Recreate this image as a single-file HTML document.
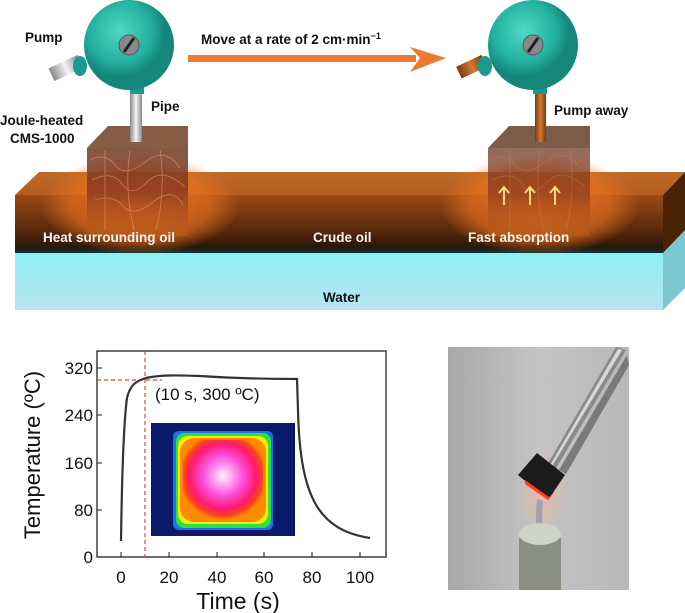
<!DOCTYPE html>
<html><head><meta charset="utf-8"><style>
html,body{margin:0;padding:0;background:#fff;width:685px;height:613px;overflow:hidden}
svg{display:block;font-family:"Liberation Sans",Arial,sans-serif}
</style></head><body>
<svg width="685" height="613" viewBox="0 0 685 613" xmlns="http://www.w3.org/2000/svg">
<defs>
<linearGradient id="oilF" x1="0" y1="0" x2="0" y2="1">
<stop offset="0" stop-color="#9a4a14"/><stop offset="0.6" stop-color="#5a2a0c"/><stop offset="0.9" stop-color="#2c1606"/><stop offset="1" stop-color="#0e3a3a"/></linearGradient>
<linearGradient id="oilT" x1="0" y1="0" x2="0" y2="1"><stop offset="0" stop-color="#c06a28"/><stop offset="1" stop-color="#b35c1e"/></linearGradient>
<linearGradient id="wat" x1="0" y1="0" x2="0" y2="1"><stop offset="0" stop-color="#8ef0f6"/><stop offset="1" stop-color="#b8e4f0"/></linearGradient>
<radialGradient id="glow"><stop offset="0" stop-color="#ff7a1a" stop-opacity="0.85"/><stop offset="0.7" stop-color="#f07420" stop-opacity="0.6"/><stop offset="1" stop-color="#f07420" stop-opacity="0"/></radialGradient>
<radialGradient id="pump" cx="0.4" cy="0.35"><stop offset="0" stop-color="#4fd8c4"/><stop offset="0.7" stop-color="#22b0a0"/><stop offset="1" stop-color="#14867a"/></radialGradient>
<linearGradient id="cube" x1="0" y1="0" x2="0" y2="1"><stop offset="0" stop-color="#6e3a22"/><stop offset="0.5" stop-color="#8a3a20"/><stop offset="1" stop-color="#c0601e" stop-opacity="0.5"/></linearGradient>
<radialGradient id="ir" cx="0.5" cy="0.45" r="0.55"><stop offset="0" stop-color="#fff0ff"/><stop offset="0.45" stop-color="#ff50e0"/><stop offset="0.75" stop-color="#ff1a70"/><stop offset="0.9" stop-color="#ff4020"/><stop offset="1" stop-color="#ff8a00"/></radialGradient>
<linearGradient id="photo" x1="0" y1="0" x2="1" y2="0"><stop offset="0" stop-color="#a8a8a8"/><stop offset="0.5" stop-color="#c4c4c4"/><stop offset="1" stop-color="#b8b8b8"/></linearGradient>
<linearGradient id="metal" x1="0" y1="0" x2="1" y2="0"><stop offset="0" stop-color="#888"/><stop offset="0.5" stop-color="#f4f4f4"/><stop offset="1" stop-color="#888"/></linearGradient>
<linearGradient id="brown" x1="0" y1="0" x2="1" y2="0"><stop offset="0" stop-color="#7a3a10"/><stop offset="0.5" stop-color="#d07a30"/><stop offset="1" stop-color="#7a3a10"/></linearGradient>
<radialGradient id="flame" cx="0.5" cy="0.5"><stop offset="0" stop-color="#ffb090" stop-opacity="0.7"/><stop offset="1" stop-color="#ffb090" stop-opacity="0"/></radialGradient>
</defs>

<rect x="15" y="253" width="648" height="57" fill="url(#wat)"/>
<polygon points="663,253 685,230 685,288 663,310" fill="#7cc8d0"/>
<polygon points="15,195 39,172 685,172 663,195" fill="url(#oilT)"/>
<rect x="15" y="195" width="648" height="58" fill="url(#oilF)"/>
<polygon points="663,195 685,172 685,230 663,253" fill="#4a2208"/>

<ellipse cx="140" cy="205" rx="100" ry="50" fill="url(#glow)"/>
<ellipse cx="540" cy="205" rx="100" ry="50" fill="url(#glow)"/>

<g>
<polygon points="87,148 108,126 188,126 188,148" fill="#7a4a30" opacity="0.9"/>
<rect x="87" y="148" width="101" height="88" fill="url(#cube)" opacity="0.85"/>
<g stroke="#f0a070" stroke-width="0.8" fill="none" opacity="0.6">
<path d="M90,160 q15,-8 25,5 t30,-3 t35,6 M92,180 q20,-10 30,4 t25,-2 t38,5 M95,200 q18,-6 28,6 t30,-4 t30,3 M105,150 v80 M130,150 q-6,40 4,80 M160,150 q6,40 -4,80"/>
</g>
<polygon points="488,148 509,126 590,126 590,148" fill="#6e4a35" opacity="0.9"/>
<rect x="488" y="148" width="102" height="88" fill="url(#cube)" opacity="0.75"/>
<g stroke="#d08a60" stroke-width="0.8" fill="none" opacity="0.4">
<path d="M490,160 q15,-8 25,5 t30,-3 t35,6 M492,180 q20,-10 30,4 t25,-2 t38,5 M510,150 v80 M540,150 q-6,40 4,80 M570,150 q6,40 -4,80"/>
</g>
</g>
<g stroke="#ffd880" stroke-width="2" fill="none">
<path d="M504,205 V188 M499,193 L504,187 L509,193"/>
<path d="M530,205 V188 M525,193 L530,187 L535,193"/>
<path d="M555,205 V188 M550,193 L555,187 L560,193"/>
</g>

<rect x="130" y="88" width="12" height="54" fill="url(#metal)"/>
<g transform="rotate(-25 66 68)"><rect x="50" y="61" width="32" height="14" fill="url(#metal)"/></g>
<ellipse cx="80" cy="66" rx="7" ry="10" fill="#1a9a8c"/>
<rect x="130" y="80" width="14" height="14" fill="#1a9a8c"/>
<circle cx="129" cy="45" r="45" fill="url(#pump)"/>
<circle cx="129" cy="45" r="10" fill="#888" stroke="#555"/>
<line x1="124" y1="52" x2="134" y2="38" stroke="#222" stroke-width="3"/>

<rect x="535" y="88" width="11" height="54" fill="url(#brown)"/>
<g transform="rotate(-25 470 68)"><rect x="458" y="61" width="28" height="13" fill="url(#brown)"/></g>
<ellipse cx="485" cy="66" rx="7" ry="10" fill="#1a9a8c"/>
<rect x="533" y="80" width="14" height="14" fill="#1a9a8c"/>
<circle cx="533" cy="45" r="45" fill="url(#pump)"/>
<circle cx="533" cy="45" r="10" fill="#888" stroke="#555"/>
<line x1="528" y1="52" x2="538" y2="38" stroke="#222" stroke-width="3"/>

<rect x="188" y="55" width="228" height="7" fill="#ec7a30"/>
<polygon points="410,47 446,58 410,72 420,58" fill="#ec7a30"/>

<g font-weight="bold" font-size="13.5" fill="#111">
<text x="25" y="42">Pump</text>
<text x="201" y="44">Move at a rate of 2 cm·min<tspan font-size="9" dy="-5">−1</tspan></text>
<text x="151" y="111">Pipe</text>
<text x="0" y="125">Joule-heated</text>
<text x="10" y="143">CMS-1000</text>
<text x="554" y="115">Pump away</text>
<text x="323" y="302">Water</text>
</g>
<g font-weight="bold" font-size="13.5" fill="#f4f4f4">
<text x="43" y="242">Heat  surrounding oil</text>
<text x="313" y="242">Crude oil</text>
<text x="468" y="242">Fast absorption</text>
</g>

<rect x="97" y="351" width="289" height="206" fill="none" stroke="#222" stroke-width="1.3"/>
<g stroke="#222" stroke-width="1">
<line x1="97" y1="368" x2="102" y2="368"/><line x1="97" y1="415" x2="102" y2="415"/><line x1="97" y1="463" x2="102" y2="463"/><line x1="97" y1="510" x2="102" y2="510"/>
<line x1="121" y1="557" x2="121" y2="552"/><line x1="169" y1="557" x2="169" y2="552"/><line x1="217" y1="557" x2="217" y2="552"/><line x1="264" y1="557" x2="264" y2="552"/><line x1="312" y1="557" x2="312" y2="552"/><line x1="360" y1="557" x2="360" y2="552"/>
</g>
<g font-size="17" fill="#111" text-anchor="end">
<text x="93" y="374">320</text><text x="93" y="421">240</text><text x="93" y="469">160</text><text x="93" y="516">80</text><text x="93" y="563">0</text>
</g>
<g font-size="17" fill="#111" text-anchor="middle">
<text x="121" y="583">0</text><text x="169" y="583">20</text><text x="217" y="583">40</text><text x="264" y="583">60</text><text x="312" y="583">80</text><text x="360" y="583">100</text>
</g>
<text x="238" y="609" font-size="23" text-anchor="middle" fill="#111">Time (s)</text>
<text transform="translate(40 455) rotate(-90)" font-size="22" text-anchor="middle" fill="#111">Temperature (ºC)</text>
<line x1="97" y1="380" x2="162" y2="380" stroke="#e04040" stroke-dasharray="4,3" stroke-width="1.2"/>
<line x1="145" y1="351" x2="145" y2="557" stroke="#e04040" stroke-dasharray="4,3" stroke-width="1.2"/>
<path d="M121,541 C122,470 124,420 127,398 C130,385 136,381 146,378 C160,375 175,375 200,376 C230,378 260,379 297,379 L298,410 C300,500 320,530 370,538" fill="none" stroke="#333" stroke-width="2.2"/>
<text x="155" y="400" font-size="17" fill="#111">(10 s, 300 ºC)</text>
<rect x="151" y="423" width="144" height="113" fill="#0a1a6a"/>
<rect x="173" y="431" width="100" height="99" rx="6" fill="#1a70f0"/>
<rect x="176" y="433" width="95" height="95" rx="8" fill="#30e040"/>
<rect x="178" y="436" width="90" height="88" rx="10" fill="#f0f000"/>
<rect x="180" y="438" width="86" height="84" rx="14" fill="#ff8a00"/>
<rect x="183" y="440" width="80" height="80" rx="22" fill="url(#ir)"/>

<rect x="448" y="347" width="181" height="243" fill="url(#photo)"/>
<ellipse cx="542" cy="490" rx="24" ry="42" fill="url(#flame)"/>
<polygon points="616,347 626,350 555,470 547,465" fill="#8a8a8a"/>
<polygon points="618,349 622,350 551,468 549,467" fill="#d8d8d8"/>
<polygon points="627,355 629,365 566,474 559,470" fill="#7a7a7a"/>
<polygon points="518,475 537,453 565,475 548,500" fill="#1c1c1c"/>
<polygon points="525,484 548,500 556,490 549,497 525,480" fill="#ff4020"/>
<path d="M540,500 q-2,18 0,32" stroke="#a0a0b0" stroke-width="6" fill="none"/>
<rect x="519" y="538" width="42" height="52" fill="#8c9082"/>
<ellipse cx="540" cy="534" rx="21" ry="11" fill="#cfd2c6"/>
</svg>
</body></html>
